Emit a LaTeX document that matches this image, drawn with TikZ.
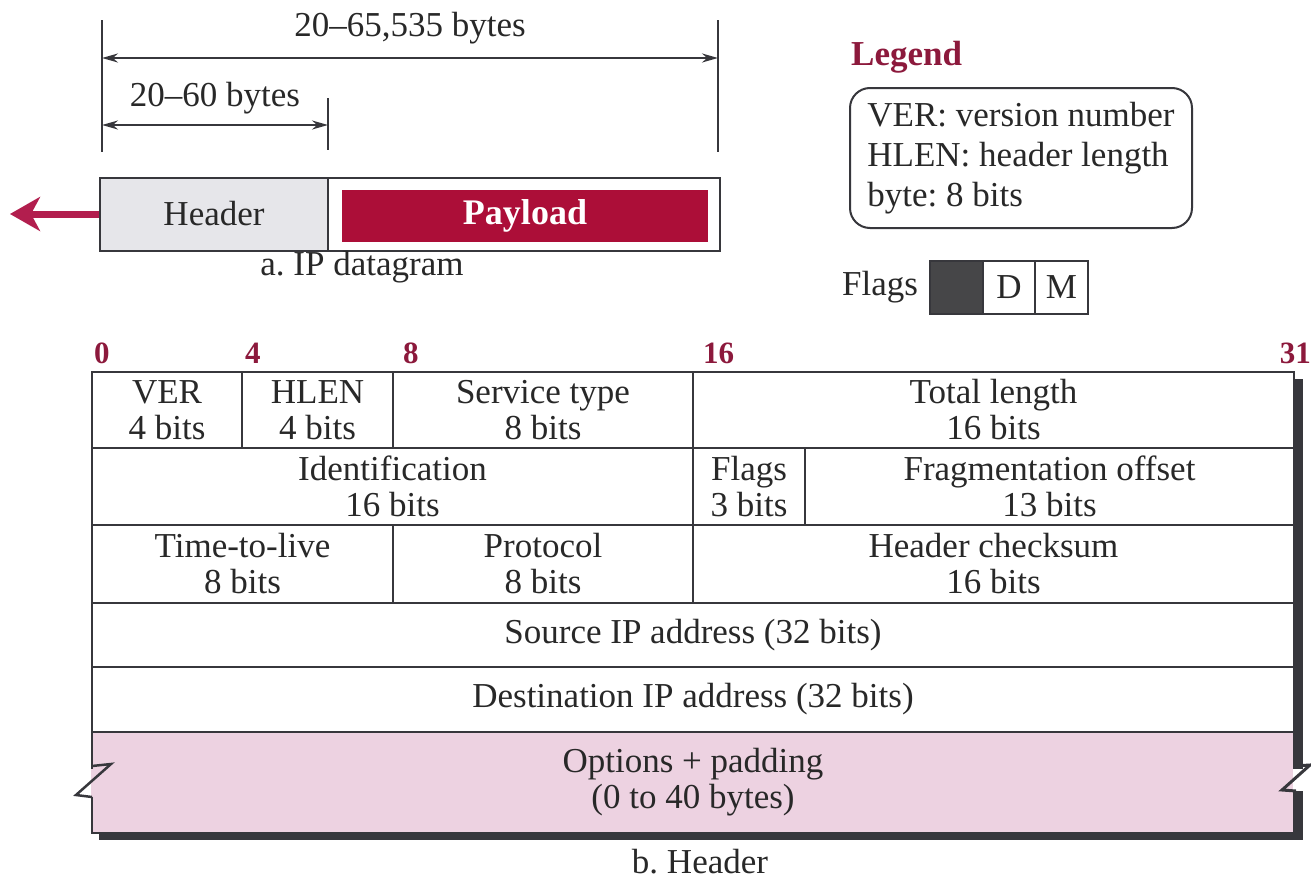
\documentclass[tikz,border=0pt]{standalone}
\usepackage{fontspec}
\setmainfont{Liberation Serif}
\usetikzlibrary{arrows.meta}
\frenchspacing
\definecolor{maroon}{RGB}{140,25,60}
\definecolor{payred}{RGB}{172,14,56}
\definecolor{pinkfill}{RGB}{237,210,225}
\definecolor{hdrgray}{RGB}{230,230,234}
\definecolor{linegray}{RGB}{55,55,60}
\definecolor{arrowred}{RGB}{178,30,78}
\definecolor{flagdark}{RGB}{70,70,72}
\definecolor{txtcol}{RGB}{40,40,40}
\tikzset{
  base/.style={font=\fontsize{35}{36}\selectfont, text=txtcol, inner sep=0pt, align=center},
  cell/.style={base, draw=linegray, line width=2.5pt, fill=white},
  bitlbl/.style={font=\bfseries\fontsize{31}{31}\selectfont, text=maroon, inner sep=0pt},
  dimarrow/.style={draw=linegray, line width=2pt, {Stealth[length=16pt,width=9pt]}-{Stealth[length=16pt,width=9pt]}},
  ticks/.style={draw=linegray, line width=2pt},
}
\begin{document}
\begin{tikzpicture}[x=1pt,y=-1pt]
\useasboundingbox (0,0) rectangle (1311,886);
\fill[white] (0,0) rectangle (1311,886);

% ---------- a. IP datagram ----------
\coordinate (tL1) at (102,20);  \coordinate (tL2) at (102,152);
\coordinate (tR1) at (718,20);  \coordinate (tR2) at (718,152);
\coordinate (tM1) at (328,98);  \coordinate (tM2) at (328,150);
\draw[ticks] (tL1) -- (tL2);
\draw[ticks] (tR1) -- (tR2);
\draw[ticks] (tM1) -- (tM2);
\coordinate (aL) at (102,58);  \coordinate (aR) at (718,58);
\coordinate (bL) at (102,125); \coordinate (bR) at (328,125);
\draw[dimarrow] (aL) -- (aR);
\draw[dimarrow] (bL) -- (bR);
\node[base] (lbltot) at (410,28) {20--65,535 bytes};
\node[base] (lblhdr) at (215,98) {20--60 bytes};

\node[base, draw=linegray, line width=2pt, fill=hdrgray, minimum width=228, minimum height=73] (hdr) at (214,214) {Header};
\node[draw=linegray, line width=2pt, fill=white, minimum width=392, minimum height=73, inner sep=0pt] (payout) at (524,214) {};
\node[fill=payred, minimum width=366, minimum height=52, inner sep=0pt, text=white, font=\bfseries\fontsize{36}{36}\selectfont] (pay) at (525,216) {Payload};
\coordinate (arrtip) at (10,214);
\draw[arrowred, line width=7pt, -{Stealth[length=30pt,width=34pt,inset=9pt]}] (hdr.west) -- (arrtip);
\node[base] (capa) at (362,267) {a. IP datagram};

% ---------- Legend ----------
\node[base, anchor=west, text=maroon, font=\bfseries\fontsize{35}{36}\selectfont] (legt) at (851,57) {Legend};
\node[base, draw=linegray, line width=2pt, rounded corners=20pt, align=left, minimum width=342, minimum height=140, font=\fontsize{35}{40}\selectfont] (leg) at (1021,158) {VER: version number\\HLEN: header length\\byte: 8 bits};

% ---------- Flags ----------
\node[base] (flagt) at (880,287) {Flags};
\node[draw=linegray, line width=2pt, fill=flagdark, minimum width=53, minimum height=53, inner sep=0pt] (fx) at (956.5,287.5) {};
\node[base, draw=linegray, line width=2pt, minimum width=52, minimum height=53] (fd) at (1009,287.5) {D};
\node[base, draw=linegray, line width=2pt, minimum width=53, minimum height=53] (fm) at (1061.5,287.5) {M};

% ---------- bit labels ----------
\node[bitlbl, anchor=west] (b0) at (94,353) {0};
\node[bitlbl, anchor=west] (b4) at (245,353) {4};
\node[bitlbl, anchor=west] (b8) at (403,353) {8};
\node[bitlbl, anchor=west] (b16) at (703,353) {16};
\node[bitlbl, anchor=east] (b31) at (1311,353) {31};

% ---------- shadow ----------
\fill[linegray] (99,379) rectangle (1303,840);

% ---------- header table ----------
\node[cell, minimum width=150, minimum height=76] (ver) at (167,410) {VER\\4 bits};
\node[cell, minimum width=151, minimum height=76] (hlen) at (317.5,410) {HLEN\\4 bits};
\node[cell, minimum width=300, minimum height=76] (stype) at (543,410) {Service type\\8 bits};
\node[cell, minimum width=601, minimum height=76] (tlen) at (993.5,410) {Total length\\16 bits};

\node[cell, minimum width=601, minimum height=77] (ident) at (392.5,486.5) {Identification\\16 bits};
\node[cell, minimum width=112, minimum height=77] (flg) at (749,486.5) {Flags\\3 bits};
\node[cell, minimum width=489, minimum height=77] (frag) at (1049.5,486.5) {Fragmentation offset\\13 bits};

\node[cell, minimum width=301, minimum height=78] (ttl) at (242.5,564) {Time-to-live\\8 bits};
\node[cell, minimum width=300, minimum height=78] (proto) at (543,564) {Protocol\\8 bits};
\node[cell, minimum width=601, minimum height=78] (chk) at (993.5,564) {Header checksum\\16 bits};

\node[cell, minimum width=1202, minimum height=64] (src) at (693,635) {Source IP address (32 bits)};
\node[cell, minimum width=1202, minimum height=65] (dst) at (693,699.5) {Destination IP address (32 bits)};
\node[cell, fill=pinkfill, minimum width=1202, minimum height=101] (opt) at (693,782.5) {Options + padding\\(0 to 40 bytes)};

% break marks
\fill[white] (86,769) rectangle (91,797);
\fill[pinkfill] (91,769) rectangle (95,797);
\draw[linegray, line width=2.5pt, line join=miter] (92,766) -- (111,764) -- (76,795) -- (92,797);
\fill[pinkfill] (1290,769) rectangle (1293,791);
\fill[white] (1293,769) rectangle (1305,791);
\draw[linegray, line width=3pt, line join=miter] (1294,766) -- (1310,765) -- (1282,790) -- (1296,791);

\node[base] (capb) at (700,862) {b. Header};
\end{tikzpicture}
\end{document}
